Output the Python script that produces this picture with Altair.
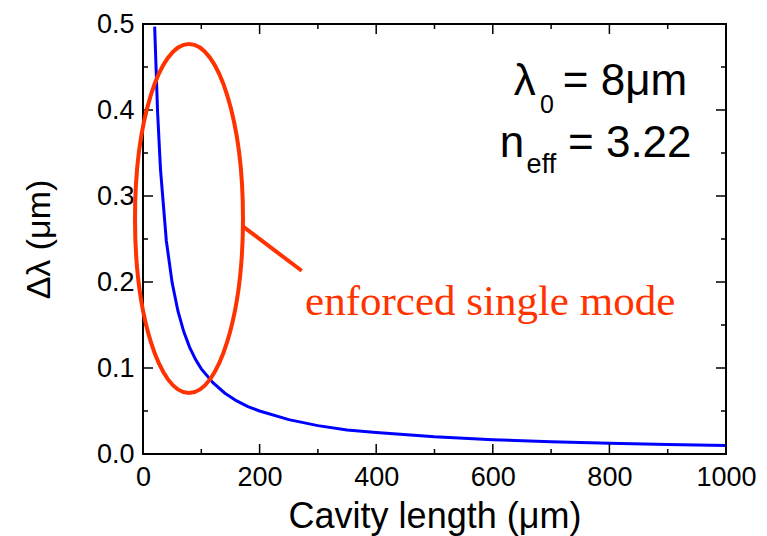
import altair as alt
import pandas as pd

# Blue curve: cavity length (um) vs mode spacing (um)
length_um = [20, 25, 30, 40, 50, 60, 70, 80, 90, 100, 120, 140, 160, 180, 200,
             250, 300, 350, 400, 500, 600, 700, 800, 900, 1000]
dlambda_um = [0.497, 0.398, 0.331, 0.248, 0.199, 0.166, 0.142, 0.124, 0.110, 0.099,
              0.083, 0.071, 0.062, 0.055, 0.050, 0.040, 0.033, 0.028, 0.025, 0.020,
              0.0166, 0.0142, 0.0124, 0.0110, 0.0099]

x_major = [0, 200, 400, 600, 800, 1000]
x_minor = [100, 300, 500, 700, 900]
y_major = [0.0, 0.1, 0.2, 0.3, 0.4, 0.5]
y_minor = [0.05, 0.15, 0.25, 0.35, 0.45]

# ellipse annotation: centre and semi-axes (data units)
ell_cx, ell_cy = [78.9], [0.2738]
ell_ax, ell_ay = 92.6, 0.2029
# leader line
lead_x, lead_y, lead_x2, lead_y2 = [171.8], [0.2643], [272.2], [0.2131]

W, H = 583, 430
RED = "#FF3300"
SANS = "Liberation Sans"
SERIF = "Liberation Serif"

xs = alt.Scale(domain=[0, 1000], nice=False)
ys = alt.Scale(domain=[0, 0.5], nice=False)

df = pd.DataFrame({"L": length_um, "d": dlambda_um})

curve = alt.Chart(df).mark_line(color="#0000FF", strokeWidth=3).encode(
    x=alt.X("L:Q", scale=xs, axis=alt.Axis(
        title="Cavity length (μm)", values=x_major, format="d", ticks=False,
        domain=False, grid=False, labelFlush=False, labelFont=SANS, labelFontSize=27,
        labelColor="black", labelPadding=10, titleFont=SANS, titleFontSize=36,
        titleFontWeight="normal", titleColor="black", titlePadding=9)),
    y=alt.Y("d:Q", scale=ys, axis=alt.Axis(
        title="Δλ (μm)", values=y_major, format=".1f", ticks=False,
        domain=False, grid=False, labelFlush=False, labelFont=SANS, labelFontSize=27,
        labelColor="black", labelPadding=9, titleFont=SANS, titleFontSize=34,
        titleFontWeight="normal", titleColor="black", titlePadding=40)),
)

def xticks(vals, length):
    d = pd.DataFrame({"v": vals})
    b = alt.Chart(d).mark_rule(color="black", strokeWidth=1.5).encode(
        x=alt.X("v:Q", scale=xs), y=alt.value(H), y2=alt.value(H - length))
    t = alt.Chart(d).mark_rule(color="black", strokeWidth=1.5).encode(
        x=alt.X("v:Q", scale=xs), y=alt.value(0), y2=alt.value(length))
    return [b, t]

def yticks(vals, length):
    d = pd.DataFrame({"v": vals})
    l = alt.Chart(d).mark_rule(color="black", strokeWidth=1.5).encode(
        y=alt.Y("v:Q", scale=ys), x=alt.value(0), x2=alt.value(length))
    r = alt.Chart(d).mark_rule(color="black", strokeWidth=1.5).encode(
        y=alt.Y("v:Q", scale=ys), x=alt.value(W), x2=alt.value(W - length))
    return [l, r]

ticks = xticks(x_major, 10) + xticks(x_minor, 5) + yticks(y_major, 10) + yticks(y_minor, 5)

# ellipse as a custom symbol path (box -1..1); sized in pixels
ew = ell_ax * 2 * W / 1000.0
eh = ell_ay * 2 * H / 0.5
ratio = ew / eh
path = f"M {-ratio:.4f} 0 A {ratio:.4f} 1 0 1 0 {ratio:.4f} 0 A {ratio:.4f} 1 0 1 0 {-ratio:.4f} 0 Z"
ellipse = alt.Chart(pd.DataFrame({"x": ell_cx, "y": ell_cy})).mark_point(
    shape=path, filled=False, color=RED, strokeWidth=4, opacity=1).encode(
    x=alt.X("x:Q", scale=xs), y=alt.Y("y:Q", scale=ys), size=alt.value(eh * eh))

leader = alt.Chart(pd.DataFrame({"x": lead_x, "y": lead_y, "x2": lead_x2, "y2": lead_y2})).mark_rule(
    color=RED, strokeWidth=4).encode(
    x=alt.X("x:Q", scale=xs), y=alt.Y("y:Q", scale=ys), x2="x2:Q", y2="y2:Q")

def label(txt, x, y, size, font=SANS, color="black"):
    return alt.Chart(pd.DataFrame({"x": [x], "y": [y], "t": [txt]})).mark_text(
        align="left", baseline="alphabetic", font=font, fontSize=size, color=color).encode(
        x=alt.X("x:Q", scale=xs), y=alt.Y("y:Q", scale=ys), text="t:N")

texts = [
    label("λ", 636, 0.4174, 44),
    label("0", 681, 0.3965, 25),
    label("= 8μm", 720, 0.4174, 44),
    label("n", 612, 0.3453, 44),
    label("eff", 658, 0.3267, 27),
    label("= 3.22", 729, 0.3453, 44),
    label("enforced single mode", 278, 0.1616, 43, font=SERIF, color=RED),
]

chart = alt.layer(curve, *ticks, ellipse, leader, *texts).properties(
    width=W, height=H,
    autosize=alt.AutoSizeParams(type="none"),
    padding={"left": 143, "top": 24, "right": 41, "bottom": 82},
    background="white",
).configure_view(stroke="black", strokeWidth=2)

chart.save("out.html", embed_options={"renderer": "svg", "actions": False})
